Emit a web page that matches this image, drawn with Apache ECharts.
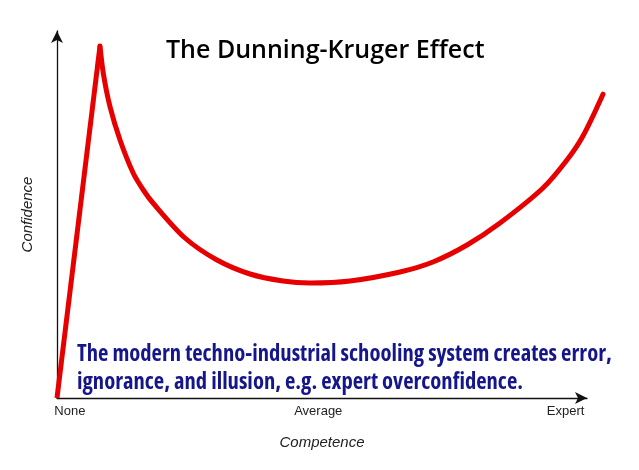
<!DOCTYPE html>
<html>
<head>
<meta charset="utf-8">
<script src="https://cdn.jsdelivr.net/npm/echarts@6/dist/echarts.min.js"></script>
<style>html,body{margin:0;padding:0;background:#fff}#c{width:639px;height:470px}</style>
</head>
<body>
<div id="c"></div>
<script>
// Data (competence, confidence)
const leftArm = [[0, 0], [8.03, 94.96]];
const curve = [
  [8.03, 94.96], [8.65, 87.59], [9.90, 78.58], [11.77, 69.60], [14.25, 60.62],
  [16.12, 56.11], [17.93, 52.60], [23.91, 43.16], [29.89, 37.23], [36.05, 33.45],
  [42.22, 31.56], [47.26, 31.02], [54.73, 31.56], [64.07, 33.99], [70.23, 36.69],
  [76.59, 41.27], [82.75, 47.21], [90.78, 56.65], [95.26, 64.20], [98.25, 70.68],
  [101.99, 81.95]
];
const tickValues = [2.4, 48.8, 95];
const tickLabels = ['None', 'Average', 'Expert'];
const titleText = 'The Dunning-Kruger Effect';
const noteLines = [
  'The modern techno-industrial schooling system creates error,',
  'ignorance, and illusion, e.g. expert overconfidence.'
];
const xName = 'Competence';
const yName = 'Confidence';

const red = '#e60000';
const axisLineStyle = {show: true, symbol: ['none', 'arrow'], symbolSize: [9, 12], lineStyle: {color: '#111', width: 1.3}};
const chart = echarts.init(document.getElementById('c'));
chart.setOption({
  animation: false,
  title: {
    text: titleText, left: 161, top: 33,
    textStyle: {fontFamily: 'Open Sans', fontWeight: 600, fontSize: 25, color: '#000'}
  },
  grid: [
    {left: 57, right: 52, top: 31, bottom: 72},
    {left: 57, right: 30.6, top: 31, bottom: 72}
  ],
  xAxis: [{
    gridIndex: 0, type: 'value', min: 0, max: 99,
    name: xName, nameLocation: 'middle', nameGap: 37,
    nameTextStyle: {fontFamily: 'Liberation Sans', fontStyle: 'italic', fontSize: 15, color: '#222'},
    axisLine: axisLineStyle,
    axisTick: {show: false},
    splitLine: {show: false},
    axisLabel: {
      customValues: tickValues, margin: 7,
      fontFamily: 'Liberation Sans', fontSize: 13, color: '#222',
      formatter: v => tickLabels[tickValues.indexOf(v)]
    }
  }, {
    gridIndex: 1, type: 'value', min: 0, max: 103, show: false
  }],
  yAxis: [{
    gridIndex: 0, type: 'value', min: 0, max: 99,
    name: yName, nameLocation: 'middle', nameGap: 22, nameRotate: 90,
    nameTextStyle: {fontFamily: 'Liberation Sans', fontStyle: 'italic', fontSize: 15, color: '#222'},
    axisLine: axisLineStyle,
    axisTick: {show: false},
    splitLine: {show: false},
    axisLabel: {show: false}
  }, {
    gridIndex: 1, type: 'value', min: 0, max: 99, show: false
  }],
  graphic: [
    {type: 'text', left: 77, top: 341, style: {text: noteLines.join('\n'), lineHeight: 28,
      font: 'bold condensed 22.6px "Open Sans"', fill: '#16168c'}}
  ],
  series: [
    {type: 'line', xAxisIndex: 1, yAxisIndex: 1, data: leftArm, showSymbol: false, clip: false,
      lineStyle: {color: red, width: 5}},
    {type: 'line', xAxisIndex: 1, yAxisIndex: 1, data: curve, showSymbol: false, clip: false,
      smooth: 0.3, lineStyle: {color: red, width: 5, cap: 'round', join: 'round'}}
  ]
});
</script>
</body>
</html>
